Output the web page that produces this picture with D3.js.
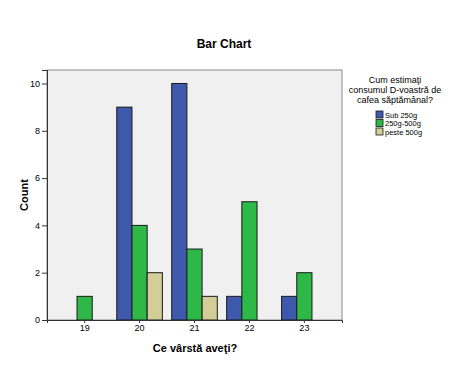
<!DOCTYPE html>
<html>
<head>
<meta charset="utf-8">
<script src="https://cdn.jsdelivr.net/npm/d3@7"></script>
<style>
  body { margin: 0; background: #fff; }
  text { font-family: Arial, "Liberation Sans", sans-serif; fill: #000; }
</style>
</head>
<body>
<svg width="456" height="365"></svg>
<script>
var ages = ["19", "20", "21", "22", "23"];
var groups = ["Sub 250g", "250g-500g", "peste 500g"];
var sub250 = [0, 9, 10, 1, 1];
var g250500 = [1, 4, 3, 5, 2];
var peste500 = [0, 2, 1, 0, 0];
var yTicks = [0, 2, 4, 6, 8, 10];
var colors = ["#3e58ac", "#2eb848", "#d3ce97"];
var legendTitle = ["Cum estimaţi", "consumul D-voastră de", "cafea săptămânal?"];

var series = [sub250, g250500, peste500];
var rows = [];
ages.forEach(function(a, i) {
  groups.forEach(function(g, j) {
    rows.push({ age: a, group: g, value: series[j][i], k: j });
  });
});

var svg = d3.select("svg");
// plot box (note: "top" is reserved on window, so use plotTop etc.)
var plotLeft = 47, plotRight = 342, plotTop = 70, plotBottom = 320;

var x0 = d3.scaleBand().domain(ages).range([plotLeft, plotRight])
    .paddingInner(0.17).paddingOuter(0.27);
var x1 = d3.scaleBand().domain(groups).range([0, x0.bandwidth()]);
var y = d3.scaleLinear().domain([0, 10.57]).range([plotBottom, plotTop]);

// plot background
svg.append("rect")
  .attr("x", plotLeft).attr("y", plotTop)
  .attr("width", plotRight - plotLeft).attr("height", plotBottom - plotTop)
  .attr("fill", "#f0f0f0")
  .attr("stroke", "#8a8a8a")
  .attr("stroke-width", 1);

// bars (zero counts are not drawn)
svg.append("g").selectAll("rect")
  .data(rows.filter(function(d) { return d.value > 0; }))
  .enter().append("rect")
    .attr("x", function(d) { return x0(d.age) + x1(d.group); })
    .attr("y", function(d) { return y(d.value); })
    .attr("width", x1.bandwidth())
    .attr("height", function(d) { return y(0) - y(d.value); })
    .attr("fill", function(d) { return colors[d.k]; })
    .attr("stroke", "#1a1a1a")
    .attr("stroke-width", 1);

// axes
var yAxis = svg.append("g")
  .attr("transform", "translate(" + plotLeft + ",0)")
  .call(d3.axisLeft(y).tickValues(yTicks).tickSize(5).tickPadding(2));
var xAxis = svg.append("g")
  .attr("transform", "translate(0," + plotBottom + ")")
  .call(d3.axisBottom(x0).tickSize(3).tickPadding(2));
[yAxis, xAxis].forEach(function(ax) {
  ax.select(".domain").attr("stroke", "#333");
  ax.selectAll(".tick line").attr("stroke", "#333");
  ax.selectAll("text").style("font-size", "9px").attr("fill", "#000");
});

// titles
svg.append("text")
  .attr("x", 224).attr("y", 48)
  .attr("text-anchor", "middle")
  .style("font-size", "12px").style("font-weight", "bold")
  .text("Bar Chart");

svg.append("text")
  .attr("transform", "translate(28,195) rotate(-90)")
  .attr("text-anchor", "middle")
  .style("font-size", "11px").style("font-weight", "bold")
  .text("Count");

svg.append("text")
  .attr("x", 195).attr("y", 352)
  .attr("text-anchor", "middle")
  .style("font-size", "11px").style("font-weight", "bold")
  .text("Ce vârstă aveţi?");

// legend
var legend = svg.append("g");
legend.selectAll("text.lt")
  .data(legendTitle)
  .enter().append("text")
    .attr("class", "lt")
    .attr("x", 395)
    .attr("y", function(d, i) { return 83 + i * 10; })
    .attr("text-anchor", "middle")
    .style("font-size", "9px")
    .text(function(d) { return d; });

var items = legend.selectAll("g.item")
  .data(groups)
  .enter().append("g")
    .attr("class", "item")
    .attr("transform", function(d, i) { return "translate(376," + (111 + i * 8.5) + ")"; });
items.append("rect")
  .attr("width", 7).attr("height", 7)
  .attr("fill", function(d, i) { return colors[i]; })
  .attr("stroke", "#1a1a1a").attr("stroke-width", 0.8);
items.append("text")
  .attr("x", 9).attr("y", 6.5)
  .style("font-size", "7.5px")
  .text(function(d) { return d; });
</script>
</body>
</html>
